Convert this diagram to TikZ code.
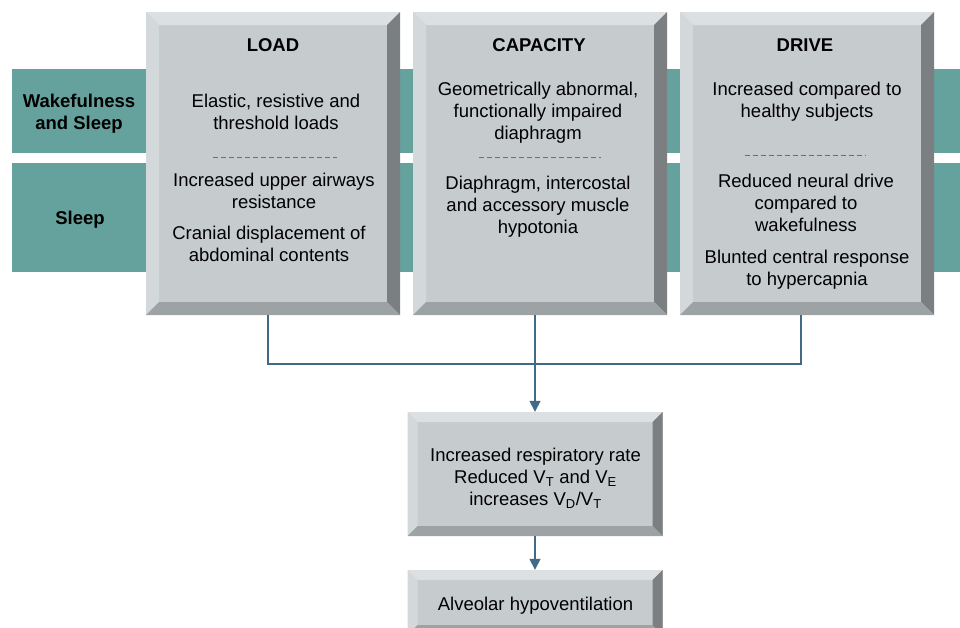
\documentclass[tikz,border=0pt]{standalone}
\usepackage{fontspec}
\setmainfont{Liberation Sans}
\usetikzlibrary{arrows.meta,calc}
\definecolor{face}{HTML}{C6CBCE}
\definecolor{bevtop}{HTML}{DCE0E3}
\definecolor{bevleft}{HTML}{D3D8DB}
\definecolor{bevright}{HTML}{7B7F82}
\definecolor{bevbot}{HTML}{9DA2A5}
\definecolor{bandc}{HTML}{65A29E}
\definecolor{connc}{HTML}{426A86}
\definecolor{dashc}{HTML}{6A6E71}
\tikzset{
  bev/.style={rectangle, fill=face, inner sep=0pt,
    path picture={
      \coordinate (nw) at (path picture bounding box.north west);
      \coordinate (se) at (path picture bounding box.south east);
      \coordinate (ne) at (nw-|se);
      \coordinate (sw) at (nw|-se);
      \fill[bevtop] (nw) -- (ne) -- ([shift={(-#1pt,-#1pt)}]ne) -- ([shift={(#1pt,-#1pt)}]nw) -- cycle;
      \fill[bevleft] (nw) -- ([shift={(#1pt,-#1pt)}]nw) -- ([shift={(#1pt,#1pt)}]sw) -- (sw) -- cycle;
      \fill[bevright] (ne) -- (se) -- ([shift={(-#1pt,#1pt)}]se) -- ([shift={(-#1pt,-#1pt)}]ne) -- cycle;
      \fill[bevbot] (sw) -- (se) -- ([shift={(-#1pt,#1pt)}]se) -- ([shift={(#1pt,#1pt)}]sw) -- cycle;
    }},
  txt/.style={align=center, inner sep=0pt, font=\fontsize{18.5}{22}\selectfont},
  ttl/.style={txt, font=\fontsize{18.5}{22}\selectfont\bfseries},
  sepline/.style={dashc, line width=1pt, dash pattern=on 5pt off 3pt},
  link/.style={connc, line width=1.5pt},
  arr/.style={link, -{Triangle[width=11pt,length=11pt]}}
}
\begin{document}
\begin{tikzpicture}[x=1pt,y=1pt]
\useasboundingbox (0,0) rectangle (960,-627);
\clip (0,0) rectangle (960,-627);
% bands
\fill[bandc] (12,-69) rectangle (960,-153);
\fill[bandc] (12,-163) rectangle (960,-272);
\node[ttl] (lw) at (79,-114) {Wakefulness\\and Sleep};
\node[ttl] (ls) at (80,-220) {Sleep};
% main boxes
\node[bev=13, minimum width=254pt, minimum height=303pt] (load) at (273,-163.5) {};
\node[bev=13, minimum width=254pt, minimum height=303pt] (cap) at (540,-163.5) {};
\node[bev=13, minimum width=254pt, minimum height=303pt] (drive) at (807,-163.5) {};
% LOAD text
\node[ttl] (t1) at (273,-45) {LOAD};
\node[txt] (l1) at (276,-112) {Elastic, resistive and\\threshold loads};
\draw[sepline] (213,-157) -- (337,-157);
\node[txt] (l2) at (274,-191) {Increased upper airways\\resistance};
\node[txt] (l3) at (269,-244) {Cranial displacement of\\abdominal contents};
% CAPACITY text
\node[ttl] (t2) at (539,-45) {CAPACITY};
\node[txt] (c1) at (538,-113) {Geometrically abnormal,\\functionally impaired\\diaphragm};
\draw[sepline] (479,-157) -- (601,-157);
\node[txt] (c2) at (538,-207) {Diaphragm, intercostal\\and accessory muscle\\hypotonia};
% DRIVE text
\node[ttl] (t3) at (805,-45) {DRIVE};
\node[txt] (d1) at (807,-102) {Increased compared to\\healthy subjects};
\draw[sepline] (745,-155) -- (866,-155);
\node[txt] (d2) at (806,-203) {Reduced neural drive\\compared to\\wakefulness};
\node[txt] (d3) at (807,-270) {Blunted central response\\to hypercapnia};
% lower boxes
\node[bev=10, minimum width=255pt, minimum height=124pt] (mid) at (535,-474) {};
\node[txt] (mt) at (535.5,-478) {Increased respiratory rate\\Reduced V\textsubscript{T} and V\textsubscript{E}\\increases V\textsubscript{D}/V\textsubscript{T}};
\node[bev=10, minimum width=255pt, minimum height=65pt] (bot) at (535,-602.5) {};
\node[txt] (bt) at (535.5,-606) {Alveolar hypoventilation};
% connectors
\draw[link] ([xshift=-5pt]load.south) -- ++(0,-49) -| ([xshift=-6pt]drive.south);
\draw[arr] (mid.north |- cap.south) -- (mid.north);
\draw[arr] (mid.south) -- (bot.north);
\end{tikzpicture}
\end{document}
